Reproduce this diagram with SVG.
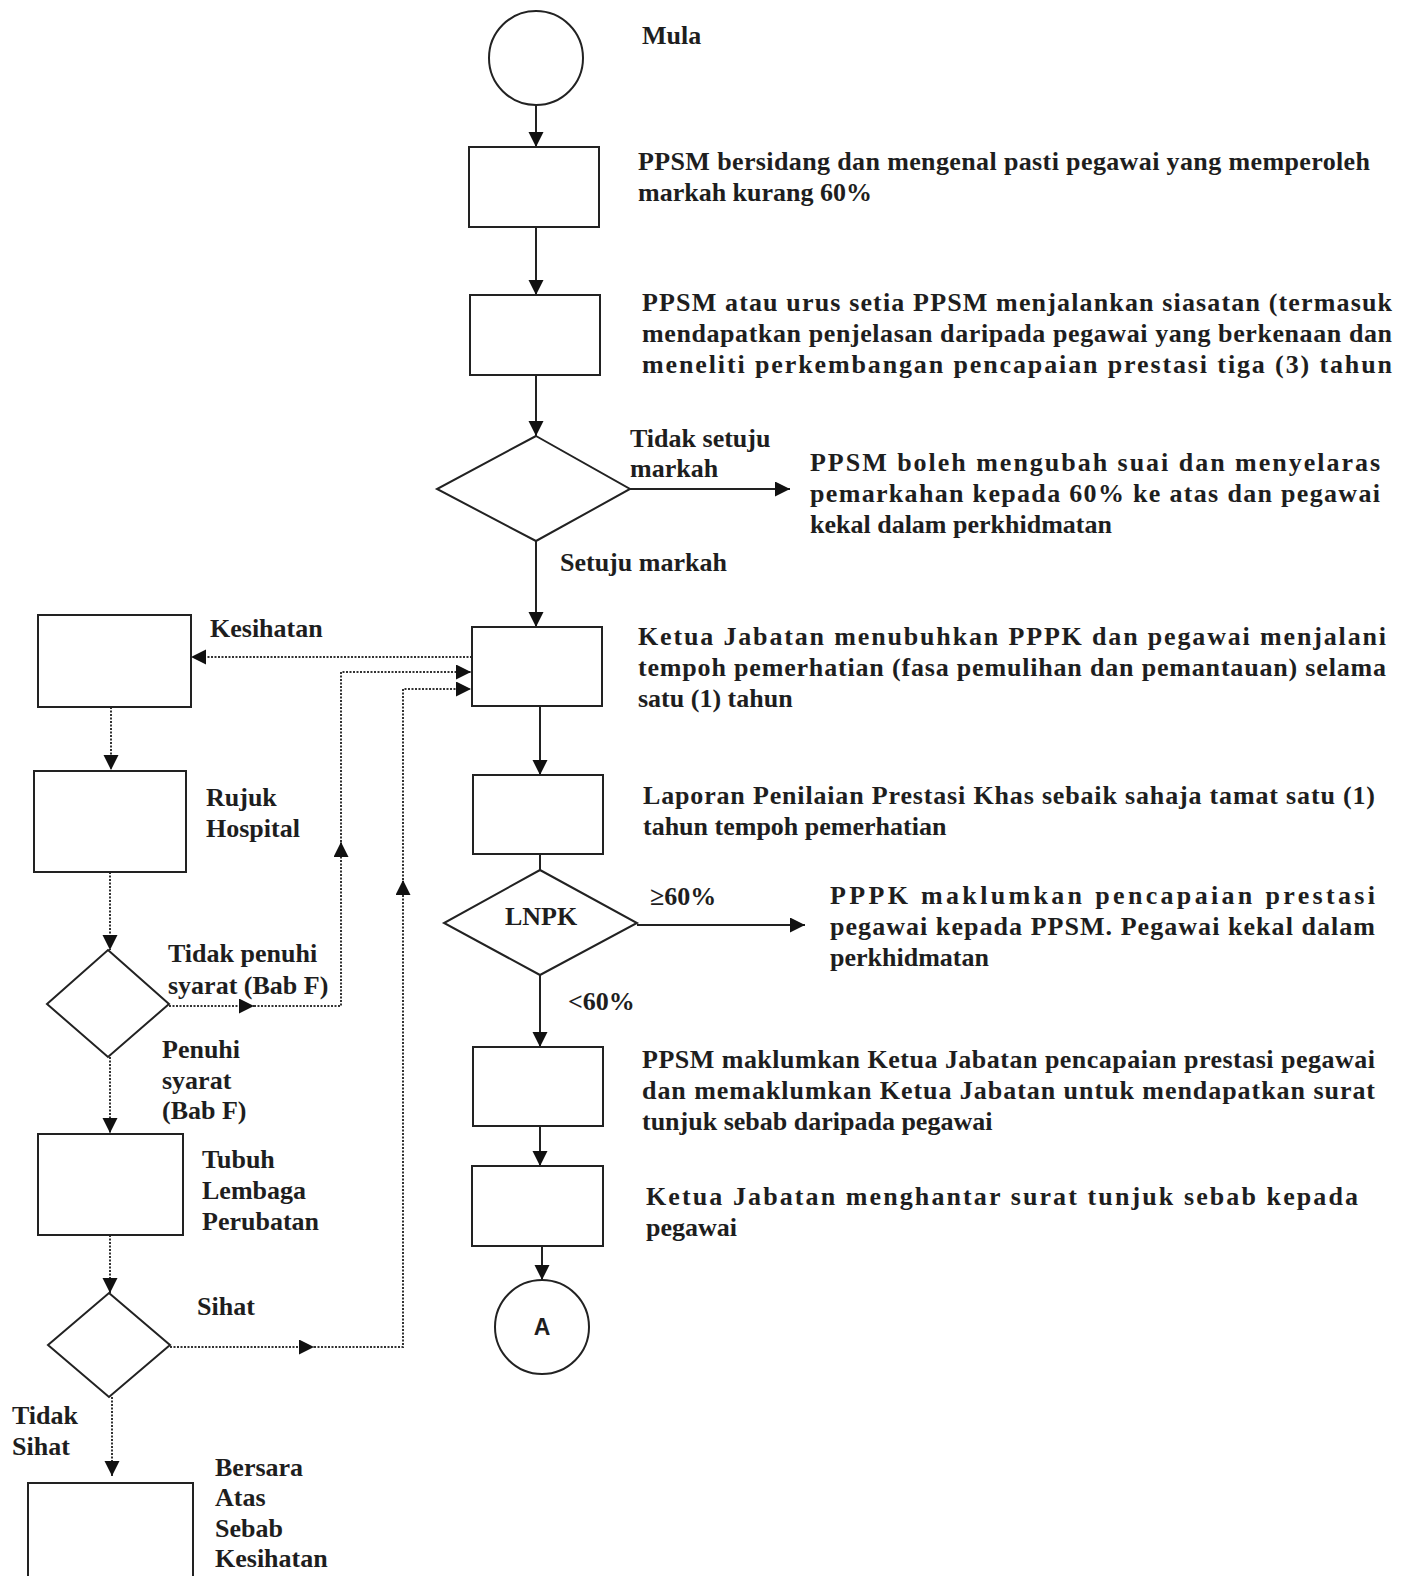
<svg xmlns="http://www.w3.org/2000/svg" width="1419" height="1576" viewBox="0 0 1419 1576">
<defs>
<marker id="ah" markerUnits="userSpaceOnUse" markerWidth="16" markerHeight="16" refX="15" refY="7.5" orient="auto">
<path d="M0,0 L15,7.5 L0,15 z" fill="#111"/>
</marker>
<style>
.nd{fill:#fff;stroke:#222;stroke-width:2}
.sl{fill:none;stroke:#222;stroke-width:2}
.dl{fill:none;stroke:#333;stroke-width:2;stroke-dasharray:2 1.5}
.t{font-family:"Liberation Serif","Times New Roman",serif;font-weight:bold;font-size:26px;fill:#1e1e1e}
.a{font-family:"Liberation Sans",Arial,sans-serif;font-weight:bold;font-size:23px;fill:#1e1e1e}
</style>
</defs>
<rect width="1419" height="1576" fill="#fff"/>

<g id="connectors">
<path class="sl" d="M536,105 L536,147" marker-end="url(#ah)"/>
<path class="sl" d="M536,227 L536,295" marker-end="url(#ah)"/>
<path class="sl" d="M536,375 L536,436" marker-end="url(#ah)"/>
<path class="sl" d="M630,489 L790,489" marker-end="url(#ah)"/>
<path class="sl" d="M536,541 L536,627" marker-end="url(#ah)"/>
<path class="sl" d="M540,706 L540,775" marker-end="url(#ah)"/>
<path class="sl" d="M540,854 L540,870"/>
<path class="sl" d="M637,925 L805,925" marker-end="url(#ah)"/>
<path class="sl" d="M540,975 L540,1047" marker-end="url(#ah)"/>
<path class="sl" d="M540,1126 L540,1166" marker-end="url(#ah)"/>
<path class="sl" d="M542,1246 L542,1280" marker-end="url(#ah)"/>

<path class="dl" d="M472,657 L191,657" marker-end="url(#ah)"/>
<path class="dl" d="M111,707 L111,770" marker-end="url(#ah)"/>
<path class="dl" d="M110,872 L110,950" marker-end="url(#ah)"/>
<path class="dl" d="M110,1057 L110,1133" marker-end="url(#ah)"/>
<path class="dl" d="M110,1235 L110,1293" marker-end="url(#ah)"/>
<path class="dl" d="M112,1397 L112,1476" marker-end="url(#ah)"/>

<path class="dl" d="M169,1006 L254,1006" marker-end="url(#ah)"/>
<path class="dl" d="M254,1006 L341,1006 L341,842" marker-end="url(#ah)"/>
<path class="dl" d="M341,842 L341,672 L471,672" marker-end="url(#ah)"/>

<path class="dl" d="M170,1347 L314,1347" marker-end="url(#ah)"/>
<path class="dl" d="M314,1347 L403,1347 L403,880" marker-end="url(#ah)"/>
<path class="dl" d="M403,880 L403,689 L471,689" marker-end="url(#ah)"/>
</g>

<g id="n-mula"><circle class="nd" cx="536" cy="58" r="47"/><text class="t" x="642" y="44">Mula</text></g>

<g id="n-bersidang"><rect class="nd" x="469" y="147" width="130" height="80"/>
<text class="t" x="638" y="170" textLength="732" lengthAdjust="spacing">PPSM bersidang dan mengenal pasti pegawai yang memperoleh</text>
<text class="t" x="638" y="201">markah kurang 60%</text></g>

<g id="n-siasatan"><rect class="nd" x="470" y="295" width="130" height="80"/>
<text class="t" x="642" y="311" textLength="750" lengthAdjust="spacing">PPSM atau urus setia PPSM menjalankan siasatan (termasuk</text>
<text class="t" x="642" y="342" textLength="750" lengthAdjust="spacing">mendapatkan penjelasan daripada pegawai yang berkenaan dan</text>
<text class="t" x="642" y="373" textLength="750" lengthAdjust="spacing">meneliti perkembangan pencapaian prestasi tiga (3) tahun</text></g>

<g id="n-keputusan"><polygon class="nd" points="536,436 630,489 536,541 437,489"/>
<text class="t" x="630" y="447">Tidak setuju</text>
<text class="t" x="630" y="477">markah</text>
<text class="t" x="560" y="571">Setuju markah</text></g>

<g id="n-ubahsuai">
<text class="t" x="810" y="471" textLength="570" lengthAdjust="spacing">PPSM boleh mengubah suai dan menyelaras</text>
<text class="t" x="810" y="502" textLength="570" lengthAdjust="spacing">pemarkahan kepada 60% ke atas dan pegawai</text>
<text class="t" x="810" y="533">kekal dalam perkhidmatan</text></g>

<g id="n-pppk"><rect class="nd" x="472" y="627" width="130" height="79"/>
<text class="t" x="638" y="645" textLength="748" lengthAdjust="spacing">Ketua Jabatan menubuhkan PPPK dan pegawai menjalani</text>
<text class="t" x="638" y="676" textLength="748" lengthAdjust="spacing">tempoh pemerhatian (fasa pemulihan dan pemantauan) selama</text>
<text class="t" x="638" y="707">satu (1) tahun</text></g>

<g id="n-laporan"><rect class="nd" x="473" y="775" width="130" height="79"/>
<text class="t" x="643" y="804" textLength="732" lengthAdjust="spacing">Laporan Penilaian Prestasi Khas sebaik sahaja tamat satu (1)</text>
<text class="t" x="643" y="835">tahun tempoh pemerhatian</text></g>

<g id="n-lnpk"><polygon class="nd" points="540,870 637,923 540,975 444,923"/>
<text class="t" x="541" y="925" text-anchor="middle">LNPK</text>
<text class="t" x="650" y="905">≥60%</text>
<text class="t" x="568" y="1010">&lt;60%</text></g>

<g id="n-kekal">
<text class="t" x="830" y="904" textLength="545" lengthAdjust="spacing">PPPK maklumkan pencapaian prestasi</text>
<text class="t" x="830" y="935" textLength="545" lengthAdjust="spacing">pegawai kepada PPSM. Pegawai kekal dalam</text>
<text class="t" x="830" y="966">perkhidmatan</text></g>

<g id="n-maklum"><rect class="nd" x="473" y="1047" width="130" height="79"/>
<text class="t" x="642" y="1068" textLength="733" lengthAdjust="spacing">PPSM maklumkan Ketua Jabatan pencapaian prestasi pegawai</text>
<text class="t" x="642" y="1099" textLength="733" lengthAdjust="spacing">dan memaklumkan Ketua Jabatan untuk mendapatkan surat</text>
<text class="t" x="642" y="1130">tunjuk sebab daripada pegawai</text></g>

<g id="n-surat"><rect class="nd" x="472" y="1166" width="131" height="80"/>
<text class="t" x="646" y="1205" textLength="712" lengthAdjust="spacing">Ketua Jabatan menghantar surat tunjuk sebab kepada</text>
<text class="t" x="646" y="1236">pegawai</text></g>

<g id="n-a"><circle class="nd" cx="542" cy="1327" r="47"/>
<text class="a" x="542" y="1335" text-anchor="middle">A</text></g>

<g id="n-kesihatan"><rect class="nd" x="38" y="615" width="153" height="92"/>
<text class="t" x="210" y="637">Kesihatan</text></g>

<g id="n-rujuk"><rect class="nd" x="34" y="771" width="152" height="101"/>
<text class="t" x="206" y="806">Rujuk</text>
<text class="t" x="206" y="837">Hospital</text></g>

<g id="n-syarat"><polygon class="nd" points="108,950 169,1004 108,1057 47,1004"/>
<text class="t" x="168" y="962">Tidak penuhi</text>
<text class="t" x="168" y="994">syarat (Bab F)</text>
<text class="t" x="162" y="1058">Penuhi</text>
<text class="t" x="162" y="1089">syarat</text>
<text class="t" x="162" y="1119">(Bab F)</text></g>

<g id="n-lembaga"><rect class="nd" x="38" y="1134" width="145" height="101"/>
<text class="t" x="202" y="1168">Tubuh</text>
<text class="t" x="202" y="1199">Lembaga</text>
<text class="t" x="202" y="1230">Perubatan</text></g>

<g id="n-sihat"><polygon class="nd" points="109,1293 170,1345 109,1397 48,1345"/>
<text class="t" x="197" y="1315">Sihat</text>
<text class="t" x="12" y="1424">Tidak</text>
<text class="t" x="12" y="1455">Sihat</text></g>

<g id="n-bersara"><rect class="nd" x="28" y="1483" width="165" height="120"/>
<text class="t" x="215" y="1476">Bersara</text>
<text class="t" x="215" y="1506">Atas</text>
<text class="t" x="215" y="1537">Sebab</text>
<text class="t" x="215" y="1567">Kesihatan</text></g>
</svg>
